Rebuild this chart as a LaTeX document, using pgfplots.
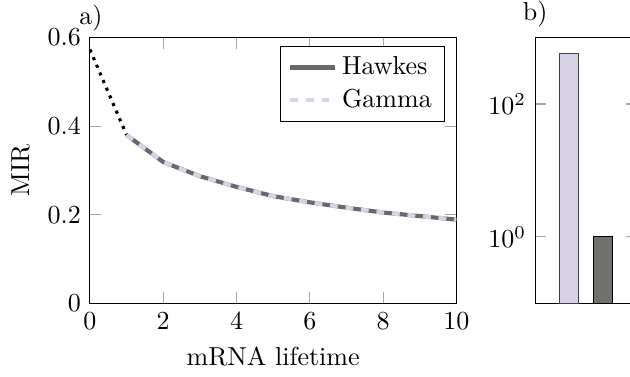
\documentclass[border=0pt]{standalone}
\usepackage{pgfplots}
\pgfplotsset{compat=1.18}

\definecolor{hawkcol}{RGB}{105,105,105}
\definecolor{gamcol}{RGB}{216,210,230}
\definecolor{barhawk}{RGB}{112,114,110}

\pgfplotsset{every tick/.style={gray!70, thin}}

\begin{document}
\begin{tikzpicture}
% a) MIR against mRNA lifetime
\begin{axis}[
  name=pa,
  at={(0pt,0pt)}, anchor=south west,
  scale only axis,
  width=140.9pt, height=102.2pt,
  xmin=0, xmax=10, ymin=0, ymax=0.6,
  xtick={0,2,4,6,8,10},
  ytick={0,0.2,0.4,0.6},
  xlabel={mRNA lifetime},
  ylabel={MIR},
  legend pos=north east,
  legend cell align=left,
]
\addplot[black, very thick, dotted, forget plot]
  coordinates {(0,0.573) (1,0.380)};
\addplot[hawkcol, ultra thick]
  coordinates {(1,0.380) (2,0.319) (3,0.287) (4,0.263) (5,0.242)
               (6,0.228) (7,0.216) (8,0.205) (9,0.197) (10,0.189)};
\addlegendentry{Hawkes}
\addplot[gamcol, ultra thick, dashed]
  coordinates {(1,0.380) (2,0.319) (3,0.287) (4,0.263) (5,0.242)
               (6,0.228) (7,0.216) (8,0.205) (9,0.197) (10,0.189)};
\addlegendentry{Gamma}
\end{axis}

% b) bar comparison on a log scale
\begin{axis}[
  name=pb,
  at={(171.2pt,0pt)}, anchor=south west,
  scale only axis,
  width=39.1pt, height=102.2pt,
  ymode=log, ymin=0.1, ymax=1000,
  xmin=-1, xmax=2,
  xtick=\empty,
  ytick={1,100},
  log origin y=infty,
]
\addplot[ybar, bar width=7.5pt, bar shift=0pt, fill=gamcol, draw=black!75]
  coordinates {(0,580)};
\addplot[ybar, bar width=7.5pt, bar shift=0pt, fill=barhawk, draw=black]
  coordinates {(1,1)};
\end{axis}

% panel letters
\node[anchor=base, inner sep=0pt] at ([xshift=0.4pt, yshift=5.2pt]pa.north west) {a)};
\node[anchor=base, inner sep=0pt] at ([yshift=6.5pt]pb.north west) {b)};

\pgfresetboundingbox
\path[use as bounding box] (-34.6pt,-27.96pt) rectangle (207.7pt,116.65pt);
\end{tikzpicture}
\end{document}
